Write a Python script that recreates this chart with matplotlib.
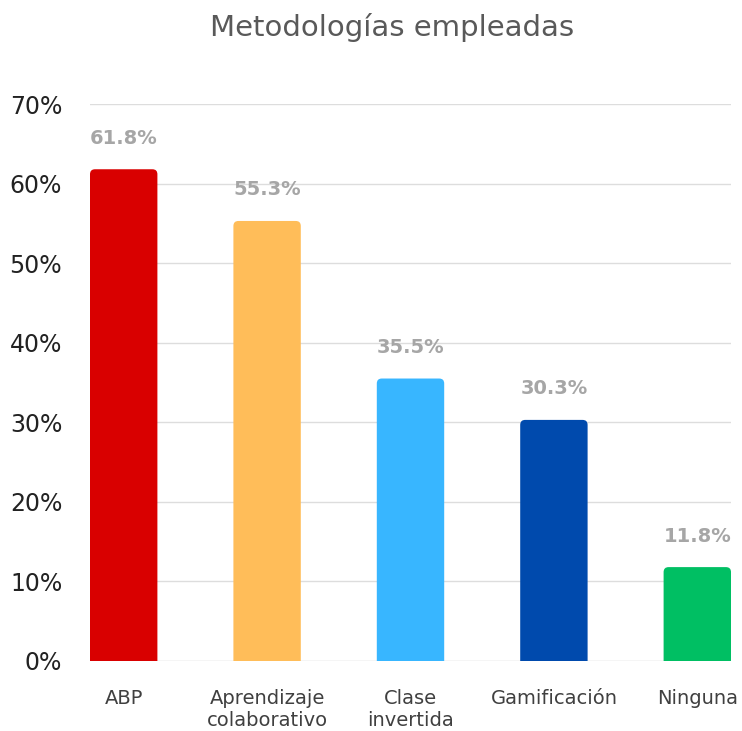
import matplotlib
matplotlib.use("Agg")
import matplotlib.pyplot as plt
from matplotlib.patches import FancyBboxPatch

# data
categories = ["ABP", "Aprendizaje\ncolaborativo", "Clase\ninvertida", "Gamificación", "Ninguna"]
values = [61.8, 55.3, 35.5, 30.3, 11.8]
colors = ["#D90000", "#FFBD59", "#38B6FF", "#004AAD", "#00BF63"]
yticks = [0, 10, 20, 30, 40, 50, 60, 70]

plt.rcParams['font.family'] = ['DejaVu Sans']

fig = plt.figure(figsize=(7.42, 7.31), dpi=100)
ax = fig.add_axes([90 / 742, 70 / 731, 641 / 742, 557 / 731])

width = 0.47
ax.set_xlim(-width / 2, len(categories) - 1 + width / 2)
ax.set_ylim(0, 70)

# grid lines
for t in yticks:
    ax.axhline(t, color="#dddddd" if t else "#cccccc", lw=1, zorder=0)

# bars with rounded top corners
px_x = 143.0
px_y = 557 / 70
aspect = px_x / px_y
for i, (v, c) in enumerate(zip(values, colors)):
    r = 5 / px_x
    p = FancyBboxPatch((i - width / 2, -2), width, v + 2,
                       boxstyle=f"round,pad=0,rounding_size={r}",
                       mutation_aspect=aspect, fc=c, ec="none", zorder=2)
    p.set_clip_box(ax.bbox)
    ax.add_patch(p)
    ax.text(i, v + 3.9, f"{v:.1f}%", ha="center", va="center",
            fontsize=14, fontweight="bold", color="#a6a6a6")

ax.set_xticks(range(len(categories)))
ax.set_xticklabels(categories, fontsize=14, color="#404040", va="top", linespacing=1.2)
ax.set_yticks(yticks)
ax.set_yticklabels([f"{t}%" for t in yticks], fontsize=17, color="#222222")
ax.tick_params(axis="x", length=0, pad=20)
ax.tick_params(axis="y", length=0, pad=20)
for s in ax.spines.values():
    s.set_visible(False)

fig.text(392 / 742, 1 - 27 / 731, "Metodologías empleadas", ha="center", va="center",
         fontsize=21, color="#595959")

fig.savefig("out.png", dpi=100)
